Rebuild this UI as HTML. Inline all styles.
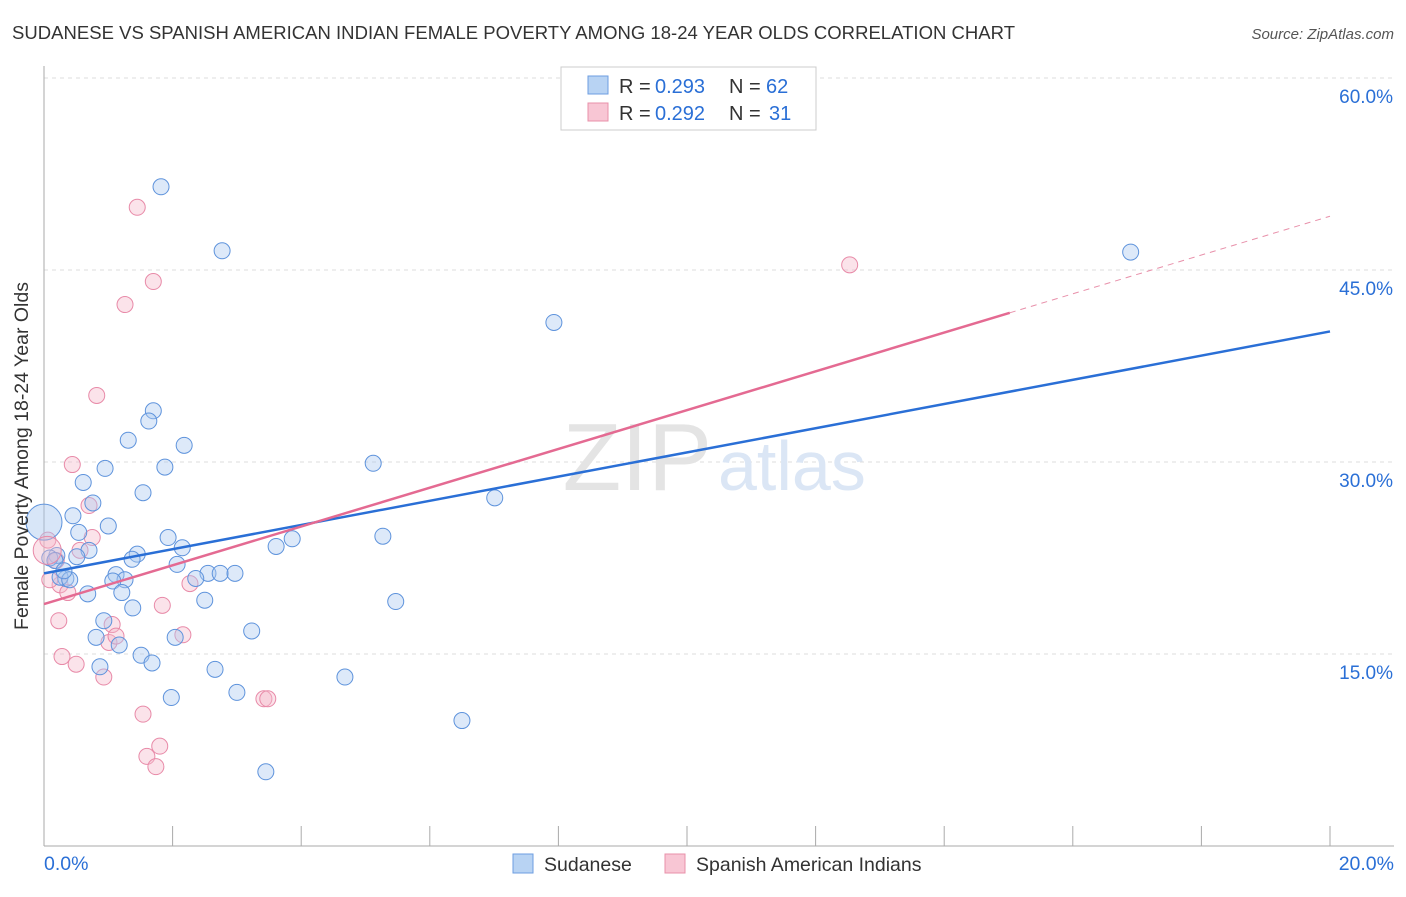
<!DOCTYPE html>
<html><head><meta charset="utf-8"><style>
body{margin:0;background:#fff;font-family:"Liberation Sans",sans-serif;}
svg text{font-family:"Liberation Sans",sans-serif;}
</style></head><body>
<svg id="chart" width="1406" height="892">
<text x="12" y="39" font-size="18.5" fill="#333" textLength="1003">SUDANESE VS SPANISH AMERICAN INDIAN FEMALE POVERTY AMONG 18-24 YEAR OLDS CORRELATION CHART</text>
<text x="1394" y="39" font-size="15" fill="#555" font-style="italic" text-anchor="end">Source: ZipAtlas.com</text>
<g id="grid"></g>
<text x="712" y="490" font-size="96" fill="#e4e4e4" text-anchor="end" font-family="Liberation Serif">ZIP</text>
<text x="718" y="490" font-size="70" fill="#dbe6f5">atlas</text>
<g id="points"></g>
<g id="lines"></g>
<text x="28" y="456" font-size="19.5" fill="#333" text-anchor="middle" transform="rotate(-90 28 456)">Female Poverty Among 18-24 Year Olds</text>
<g>
<rect x="561" y="67" width="255" height="63" fill="#fff" stroke="#ccc"/>
<rect x="588" y="76" width="20" height="18" fill="#b8d3f3" stroke="#6d9ee0"/>
<rect x="588" y="103" width="20" height="18" fill="#f8c6d4" stroke="#e890aa"/>
<text x="619" y="93" font-size="20" fill="#333">R =</text>
<text x="655" y="93" font-size="20" fill="#2a6fd6">0.293</text>
<text x="729" y="93" font-size="20" fill="#333">N =</text>
<text x="766" y="93" font-size="20" fill="#2a6fd6">62</text>
<text x="619" y="120" font-size="20" fill="#333">R =</text>
<text x="655" y="120" font-size="20" fill="#2a6fd6">0.292</text>
<text x="729" y="120" font-size="20" fill="#333">N =</text>
<text x="769" y="120" font-size="20" fill="#2a6fd6">31</text>
</g>
<g>
<rect x="513" y="854" width="20" height="19" fill="#b8d3f3" stroke="#6d9ee0"/>
<text x="544" y="871" font-size="19.5" fill="#333">Sudanese</text>
<rect x="665" y="854" width="20" height="19" fill="#f8c6d4" stroke="#e890aa"/>
<text x="696" y="871" font-size="19.5" fill="#333">Spanish American Indians</text>
</g>
</svg>
<script>
const blueX=[1.82,2.77,7.93,16.9,1.70,1.63,1.31,2.18,0.95,1.88,5.12,0.61,1.54,7.01,0.76,0.45,1.00,0.54,1.93,3.86,5.27,3.61,0.70,2.15,1.45,0.51,1.37,0.20,0.09,2.07,1.12,2.55,2.74,2.97,2.36,0.34,0.25,1.26,1.07,1.21,0.68,5.47,2.50,1.38,0.93,3.23,0.81,2.04,1.17,1.51,1.68,0.87,2.66,4.68,3.00,1.98,6.50,3.45,0.17,0.40,0.31];
const blueY=[51.5,46.5,40.9,46.4,34.0,33.2,31.7,31.3,29.5,29.6,29.9,28.4,27.6,27.2,26.8,25.8,25.0,24.5,24.1,24.0,24.2,23.4,23.1,23.3,22.8,22.6,22.4,22.7,22.5,22.0,21.2,21.3,21.3,21.3,20.9,20.9,21.0,20.8,20.7,19.8,19.7,19.1,19.2,18.6,17.6,16.8,16.3,16.3,15.7,14.9,14.3,14.0,13.8,13.2,12.0,11.6,9.8,5.8,22.3,20.8,21.5];
const pinkX=[1.45,1.70,1.26,12.53,0.82,0.44,0.70,0.75,0.56,0.19,0.25,0.37,2.27,1.84,0.23,1.06,1.01,1.12,2.16,0.28,0.50,0.93,3.42,3.48,1.54,1.80,1.60,1.74,0.09,0.06];
const pinkY=[49.9,44.1,42.3,45.4,35.2,29.8,26.6,24.1,23.1,22.3,20.4,19.8,20.5,18.8,17.6,17.3,15.9,16.4,16.5,14.8,14.2,13.2,11.5,11.5,10.3,7.8,7.0,6.2,20.8,23.9];
const yTicks=[15,30,45,60];
const xTickLabels=["0.0%","20.0%"];
const blueLine=[21.3,40.2];
const pinkLine=[18.9,49.2];
const pinkSolidEnd=15.02;
const NS="http://www.w3.org/2000/svg";
const sx=v=>44+v*64.3, sy=v=>846-v*12.8;
function mk(t,a,p){const e=document.createElementNS(NS,t);for(const k in a)e.setAttribute(k,a[k]);p.appendChild(e);return e;}
const grid=document.getElementById('grid');
yTicks.forEach(t=>{
 const l=mk('line',{x1:44,x2:1394,y1:sy(t),y2:sy(t),stroke:'#ddd','stroke-dasharray':'4,4'},grid);
 
 
 const tx=mk('text',{x:1393,y:sy(t)+25,'font-size':19,fill:'#2a6fd6','text-anchor':'end'},grid);
 tx.textContent=t.toFixed(1)+'%';
 
 
});
mk('line',{x1:44,x2:44,y1:66,y2:846,stroke:'#aaa'},grid);
mk('line',{x1:44,x2:1394,y1:846,y2:846,stroke:'#aaa'},grid);
for(let i=1;i<=10;i++){const x=sx(i*2);const t=mk('line',{x1:x,x2:x,y1:826,y2:846,stroke:'#aaa'},grid);}
[[0,'start'],[20,'end']].forEach((d,i)=>{const t=mk('text',{x:sx(d[0])+(i?64:0),y:870,'font-size':19.5,fill:'#2a6fd6','text-anchor':d[1]},grid);t.textContent=xTickLabels[i];});
const pts=document.getElementById('points');
function dots(X,Y,fill,stroke,name){X.forEach((x,i)=>{const c=mk('circle',{cx:sx(x),cy:sy(Y[i]),r:8,fill:fill,'fill-opacity':0.4,stroke:stroke,'stroke-width':1},pts);});}
dots(pinkX,pinkY,'#f6b8ca','#e88aa8','spanish-american-indian-point');
dots(blueX,blueY,'#a9c8f0','#5e93dc','sudanese-point');
let b1=mk('circle',{cx:sx(0),cy:sy(25.3),r:18,fill:'#a9c8f0','fill-opacity':0.45,stroke:'#5e93dc'},pts);


let b2=mk('circle',{cx:sx(0.05),cy:sy(23.1),r:14,fill:'#f6b8ca','fill-opacity':0.4,stroke:'#e88aa8'},pts);


const ln=document.getElementById('lines');
const bl=mk('line',{x1:sx(0),y1:sy(blueLine[0]),x2:sx(20),y2:sy(blueLine[1]),stroke:'#2a6fd6','stroke-width':2.5},ln);


const pv=x=>pinkLine[0]+(pinkLine[1]-pinkLine[0])*x/20;
const pl=mk('line',{x1:sx(0),y1:sy(pv(0)),x2:sx(pinkSolidEnd),y2:sy(pv(pinkSolidEnd)),stroke:'#e46a92','stroke-width':2.5},ln);


const pd=mk('line',{x1:sx(pinkSolidEnd),y1:sy(pv(pinkSolidEnd)),x2:sx(20),y2:sy(pv(20)),stroke:'#e890aa','stroke-width':1,'stroke-dasharray':'6,5'},ln);


</script>
</body></html>
